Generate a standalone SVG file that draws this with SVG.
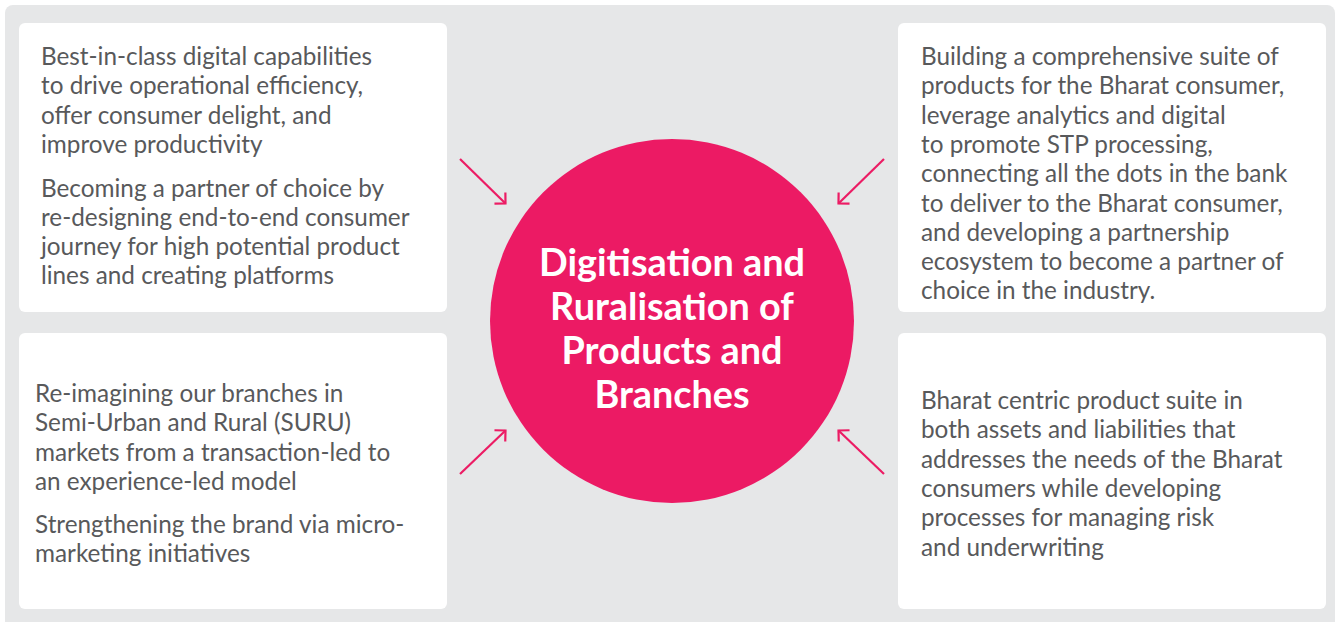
<svg xmlns="http://www.w3.org/2000/svg" width="1340" height="622" viewBox="0 0 1340 622">
<style>
.card{fill:#ffffff}
.body{font-family:Lato,"Open Sans",sans-serif;font-size:24.3px;fill:#58595b}
.title{font-family:Lato,"Open Sans",sans-serif;font-size:37.8px;font-weight:bold;fill:#ffffff;text-anchor:middle}
.arr{stroke:#ec1c64;stroke-width:2.2;fill:none}
</style>
<defs>
<marker id="head" viewBox="-10 -10 12 20" markerWidth="12" markerHeight="20" refX="0" refY="0" orient="auto" markerUnits="userSpaceOnUse">
<path d="M-7.8,-7.8 L0,0 L-7.8,7.8" fill="none" stroke="#ec1c64" stroke-width="2.2"/>
</marker>
</defs>
<rect x="5" y="5" width="1330" height="640" rx="8" fill="#e6e7e8"/>
<g id="node-top-left">
<rect class="card" x="19" y="23" width="428" height="289" rx="6"/>
<text class="body"><tspan x="41" y="65">Best-in-class digital capabilities</tspan><tspan x="41" y="94">to drive operational efficiency,</tspan><tspan x="41" y="123.5">offer consumer delight, and</tspan><tspan x="41" y="152.5">improve productivity</tspan></text>
<text class="body"><tspan x="41" y="196.5">Becoming a partner of choice by</tspan><tspan x="41" y="225.5">re-designing end-to-end consumer</tspan><tspan x="41" y="254.5">journey for high potential product</tspan><tspan x="41" y="283.5">lines and creating platforms</tspan></text>
</g>
<g id="node-bottom-left">
<rect class="card" x="19" y="333" width="428" height="276" rx="6"/>
<text class="body"><tspan x="35" y="402">Re-imagining our branches in</tspan><tspan x="35" y="431">Semi-Urban and Rural (SURU)</tspan><tspan x="35" y="460.5">markets from a transaction-led to</tspan><tspan x="35" y="489.5">an experience-led model</tspan></text>
<text class="body"><tspan x="35" y="533">Strengthening the brand via micro-</tspan><tspan x="35" y="562">marketing initiatives</tspan></text>
</g>
<g id="node-top-right">
<rect class="card" x="898" y="23" width="428" height="289" rx="6"/>
<text class="body"><tspan x="921" y="65">Building a comprehensive suite of</tspan><tspan x="921" y="94.3">products for the Bharat consumer,</tspan><tspan x="921" y="123.6">leverage analytics and digital</tspan><tspan x="921" y="152.9">to promote STP processing,</tspan><tspan x="921" y="182.2">connecting all the dots in the bank</tspan><tspan x="921" y="211.5">to deliver to the Bharat consumer,</tspan><tspan x="921" y="240.8">and developing a partnership</tspan><tspan x="921" y="270.1">ecosystem to become a partner of</tspan><tspan x="921" y="299.4">choice in the industry.</tspan></text>
</g>
<g id="node-bottom-right">
<rect class="card" x="898" y="333" width="428" height="276" rx="6"/>
<text class="body"><tspan x="921" y="409">Bharat centric product suite in</tspan><tspan x="921" y="438.3">both assets and liabilities that</tspan><tspan x="921" y="467.6">addresses the needs of the Bharat</tspan><tspan x="921" y="496.9">consumers while developing</tspan><tspan x="921" y="526.2">processes for managing risk</tspan><tspan x="921" y="555.5">and underwriting</tspan></text>
</g>
<g id="node-center">
<circle cx="672" cy="321" r="182" fill="#ec1a64"/>
<text class="title"><tspan x="672" y="276">Digitisation and</tspan><tspan x="672" y="320">Ruralisation of</tspan><tspan x="672" y="364">Products and</tspan><tspan x="672" y="408">Branches</tspan></text>
</g>
<g id="connectors">
<line class="arr" x1="460" y1="159" x2="505.5" y2="203.5" marker-end="url(#head)"/>
<line class="arr" x1="884" y1="159" x2="838.5" y2="203.5" marker-end="url(#head)"/>
<line class="arr" x1="460" y1="474" x2="505.5" y2="430.5" marker-end="url(#head)"/>
<line class="arr" x1="884" y1="474" x2="838.5" y2="430.5" marker-end="url(#head)"/>
</g>
</svg>
